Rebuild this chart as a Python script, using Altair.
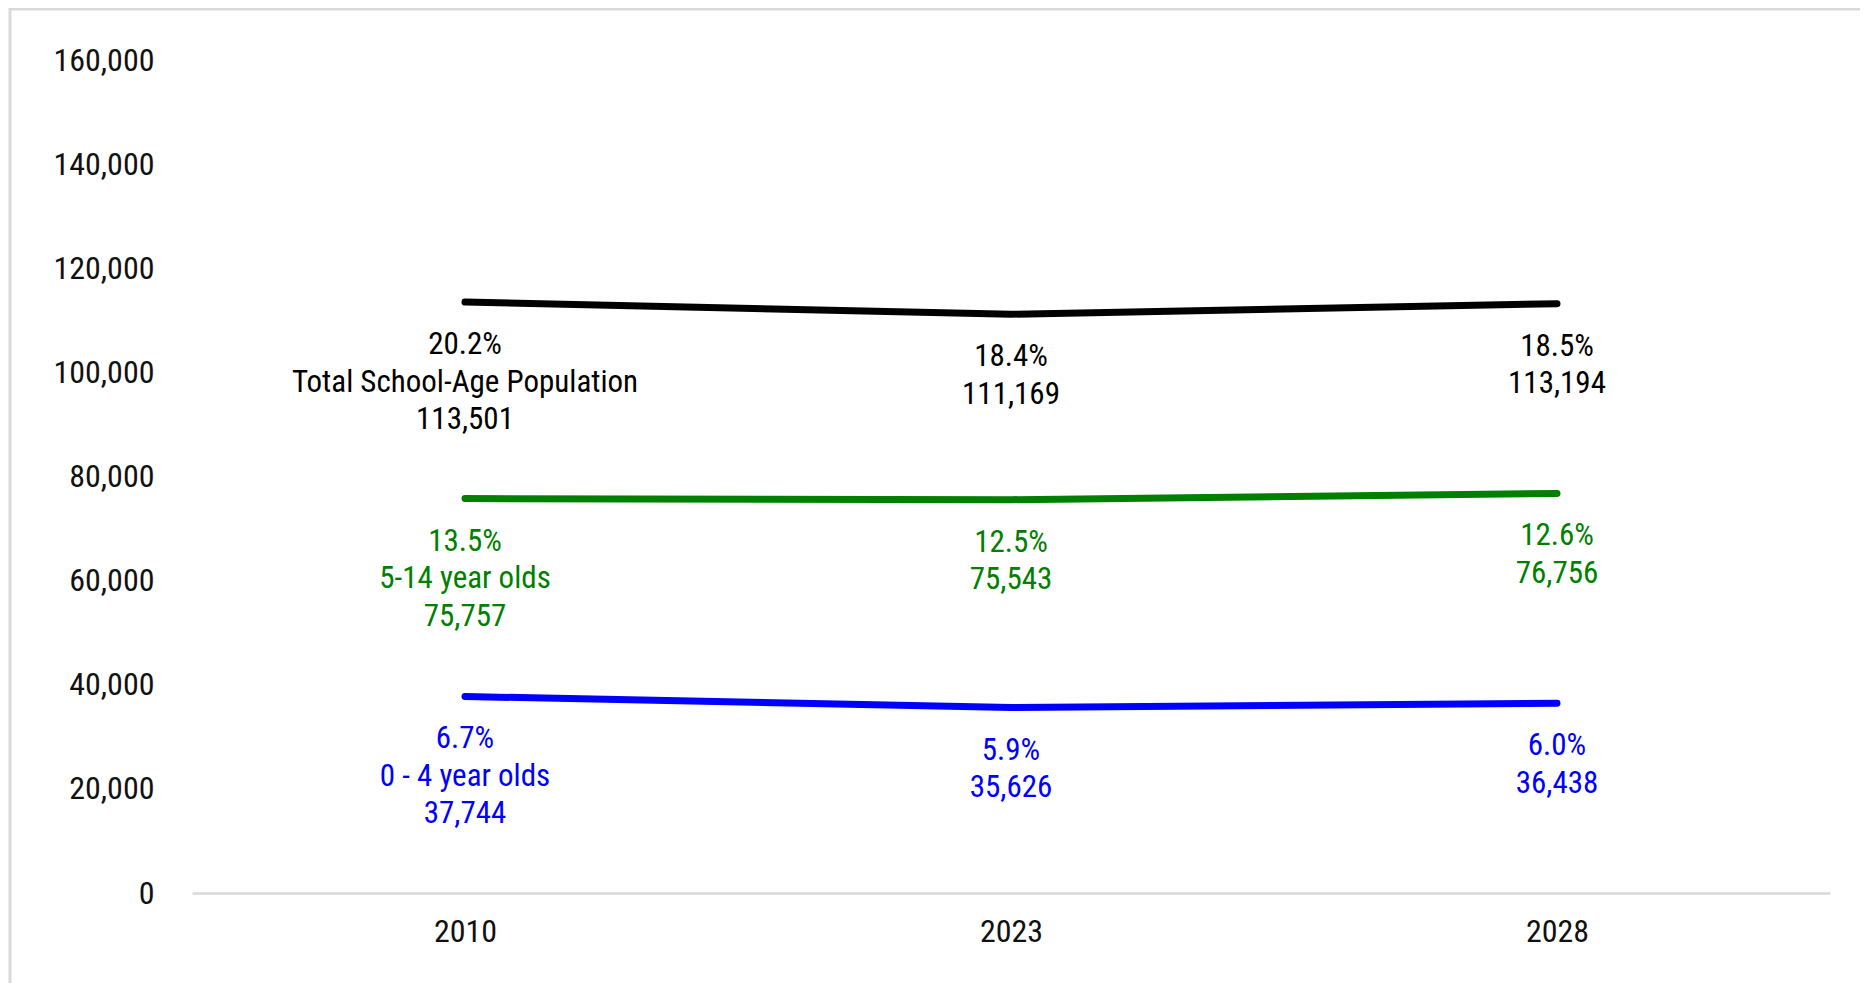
import altair as alt
import pandas as pd

# ---- data ----
years = ["2010", "2023", "2028"]
series_names = ["Total School-Age Population", "5-14 year olds", "0 - 4 year olds"]
total_values = [113501, 111169, 113194]
total_pct = ["20.2%", "18.4%", "18.5%"]
age_5_14_values = [75757, 75543, 76756]
age_5_14_pct = ["13.5%", "12.5%", "12.6%"]
age_0_4_values = [37744, 35626, 36438]
age_0_4_pct = ["6.7%", "5.9%", "6.0%"]
series_colors = ["#000000", "#008000", "#0000FF"]
y_ticks = [0, 20000, 40000, 60000, 80000, 100000, 120000, 140000, 160000]

rows = []
for name, vals, pcts in [
    (series_names[0], total_values, total_pct),
    (series_names[1], age_5_14_values, age_5_14_pct),
    (series_names[2], age_0_4_values, age_0_4_pct),
]:
    for i, (yr, v, p) in enumerate(zip(years, vals, pcts)):
        parts = [p, name, f"{v:,}"] if i == 0 else [p, f"{v:,}"]
        rows.append({"year": yr, "series": name, "value": v, "label": "\n".join(parts)})
df = pd.DataFrame(rows)

FONT = "Roboto Condensed, Liberation Sans Narrow, Roboto"

color_scale = alt.Scale(domain=series_names, range=series_colors)
x_enc = alt.X(
    "year:N",
    sort=years,
    scale=alt.Scale(type="point", padding=0.5),
    axis=alt.Axis(
        title=None, labelAngle=0, ticks=False, grid=False,
        domainColor="#d9d9d9", domainWidth=2.5,
        labelFontSize=32, labelColor="#111111", labelPadding=23, labelFont=FONT,
    ),
)
y_enc = alt.Y(
    "value:Q",
    scale=alt.Scale(domain=[0, 160000], nice=False),
    axis=alt.Axis(
        title=None, values=y_ticks, format=",d", grid=False, domain=False, ticks=False,
        labelFontSize=32, labelColor="#111111", labelPadding=38, labelFont=FONT,
    ),
)

base = alt.Chart(df)

lines = base.mark_line(strokeWidth=7, strokeCap="round").encode(
    x=x_enc, y=y_enc,
    color=alt.Color("series:N", scale=color_scale, legend=None),
    detail="series:N",
)

labels = base.mark_text(
    baseline="top", align="center", dy=28, lineHeight=37.5, fontSize=31,
    font=FONT, lineBreak="\n",
).encode(
    x=alt.X("year:N", sort=years),
    y="value:Q",
    text="label:N",
    color=alt.Color("series:N", scale=color_scale, legend=None),
)

frame_data = alt.Data(values=[{"k": 0}])
frame_left = alt.Chart(frame_data).mark_rule(color="#d9d9d9", strokeWidth=3).encode(
    x=alt.value(-182), y=alt.value(-52), y2=alt.value(1000)
)
frame_top = alt.Chart(frame_data).mark_rule(color="#d9d9d9", strokeWidth=3).encode(
    x=alt.value(-182), x2=alt.value(2000), y=alt.value(-51)
)

chart = alt.layer(frame_left, frame_top, lines, labels).properties(
    width=1638, height=833,
    padding={"left": 184, "top": 52, "right": 30, "bottom": 90},
    autosize=alt.AutoSizeParams(type="none"),
    background="white",
).configure_view(stroke=None)

chart.save("out.html", embed_options={"renderer": "svg", "actions": False})
